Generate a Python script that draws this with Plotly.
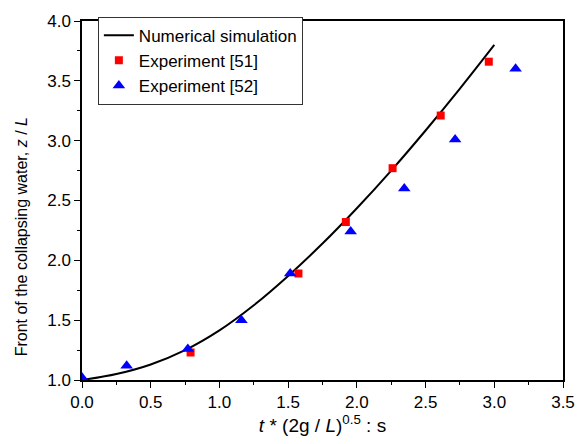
import plotly.graph_objects as go

# Numerical simulation curve
sim_x = [0.0, 0.25, 0.5, 0.75, 1.0, 1.25, 1.5, 1.75, 2.0, 2.25, 2.5, 2.75, 3.0]
sim_y = [1.0, 1.05, 1.13, 1.25, 1.415, 1.625, 1.87, 2.14, 2.435, 2.75, 3.085, 3.435, 3.80]

# Experiment [51]
exp51_x = [0.79, 1.575, 1.92, 2.26, 2.61, 2.96]
exp51_y = [1.23, 1.89, 2.32, 2.77, 3.21, 3.66]

# Experiment [52]
exp52_x = [0.0, 0.325, 0.77, 1.16, 1.515, 1.955, 2.345, 2.715, 3.155]
exp52_y = [1.02, 1.12, 1.26, 1.50, 1.89, 2.24, 2.60, 3.01, 3.60]

x_ticks = [0.0, 0.5, 1.0, 1.5, 2.0, 2.5, 3.0, 3.5]
y_ticks = [1.0, 1.5, 2.0, 2.5, 3.0, 3.5, 4.0]

FONT = "Liberation Sans, Arial, sans-serif"

fig = go.Figure()
fig.add_trace(go.Scatter(x=sim_x, y=sim_y, mode="lines", name="Numerical simulation",
                         line=dict(color="black", width=2, shape="spline")))
fig.add_trace(go.Scatter(x=exp51_x, y=exp51_y, mode="markers", name="Experiment [51]",
                         marker=dict(symbol="square", color="#ff0000", size=8)))
fig.add_trace(go.Scatter(x=exp52_x, y=exp52_y, mode="markers", name="Experiment [52]",
                         marker=dict(symbol="triangle-up", color="#0000ff", size=11)))

axis_common = dict(showgrid=False, zeroline=False, showline=True, linecolor="black", linewidth=1.5,
                   mirror=True, ticks="outside", ticklen=6, tickwidth=1.2, tickcolor="black",
                   tickfont=dict(family=FONT, size=17, color="black"),
                   minor=dict(ticks="outside", ticklen=3, tickwidth=1, tickcolor="black", dtick=0.25))

fig.update_xaxes(range=[0, 3.5], tickvals=x_ticks, tickformat=".1f",
                 title=dict(text="<i>t</i> * (2g / <i>L</i>)<sup>0.5</sup> : s",
                            font=dict(family=FONT, size=19, color="black"), standoff=2),
                 **axis_common)
fig.update_yaxes(range=[1.0, 4.0], tickvals=y_ticks, tickformat=".1f", **axis_common)

fig.add_annotation(text="Front of the collapsing water, <i>z</i> / <i>L</i>",
                   xref="paper", yref="paper", x=-0.127, y=0.40,
                   xanchor="center", yanchor="middle", textangle=-90, showarrow=False,
                   font=dict(family=FONT, size=16, color="black"))

fig.update_layout(
    width=587, height=444,
    margin=dict(l=82, r=18, t=16, b=64),
    plot_bgcolor="white", paper_bgcolor="white",
    font=dict(family=FONT, size=17, color="black"),
    legend=dict(x=0.033, y=1.012, xanchor="left", yanchor="top",
                bgcolor="white", bordercolor="#333333", borderwidth=1,
                font=dict(family=FONT, size=17, color="black"),
                tracegroupgap=0),
    showlegend=True,
)

fig.write_html("out.html")
